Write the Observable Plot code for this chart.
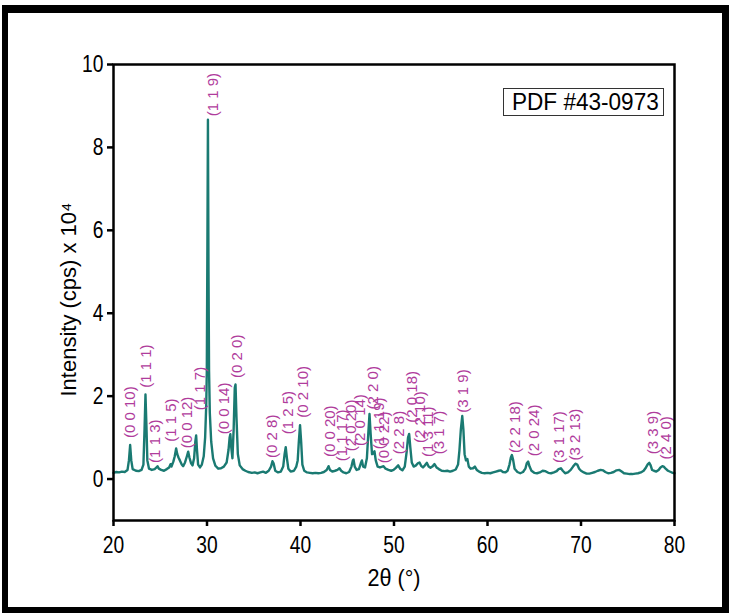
<!DOCTYPE html>
<html>
<head>
<meta charset="utf-8">
<script src="https://cdn.jsdelivr.net/npm/d3@7"></script>
<script src="https://cdn.jsdelivr.net/npm/@observablehq/plot@0.6"></script>
<style>
  html, body { margin: 0; padding: 0; background: #fff; }
  #wrap { position: relative; width: 730px; height: 613px; overflow: hidden; background: #fff; }
  #outer { position: absolute; left: 2px; top: 5px; right: 1px; bottom: 0; box-sizing: border-box;
           border-style: solid; border-color: #000; border-width: 8px 7px 6px 6px; pointer-events: none; }
  #pdf { position: absolute; left: 503px; top: 88px; width: 159px; height: 26px; border: 1px solid #333;
         font-family: "Liberation Sans", Arial, sans-serif; font-size: 24px; line-height: 26px; white-space: nowrap; }
  #pdf span { display: inline-block; margin-left: 8px; transform: scaleX(0.94); transform-origin: left center; }
</style>
</head>
<body>
<div id="wrap"></div>
<script>
// X-ray diffraction pattern: [2θ (°), intensity (cps ×10^4)]
const pattern = [
  [20.0,0.15],[20.3,0.17],[20.6,0.16],[20.9,0.18],[21.2,0.17],[21.5,0.22],[21.65,0.45],[21.78,0.82],[21.9,0.45],[22.05,0.24],
  [22.4,0.2],[22.7,0.19],[23.0,0.22],[23.2,0.35],[23.32,1.2],[23.42,2.04],[23.52,1.3],[23.62,0.45],[23.8,0.25],[24.1,0.22],
  [24.4,0.24],[24.6,0.28],[24.71,0.31],[24.85,0.25],[25.1,0.22],[25.4,0.2],[25.7,0.24],[25.95,0.28],[26.1,0.36],[26.2,0.3],
  [26.4,0.42],[26.55,0.55],[26.7,0.74],[26.82,0.6],[26.95,0.52],[27.1,0.45],[27.3,0.35],[27.45,0.31],[27.65,0.4],[27.85,0.55],
  [27.99,0.66],[28.12,0.52],[28.3,0.38],[28.45,0.33],[28.62,0.5],[28.75,0.9],[28.84,1.05],[28.93,0.7],[29.05,0.35],[29.25,0.28],
  [29.45,0.35],[29.65,0.55],[29.8,1.0],[29.92,1.8],[29.98,2.6],[30.04,5.5],[30.1,8.67],[30.16,5.0],[30.22,2.6],[30.3,1.6],
  [30.45,0.9],[30.65,0.5],[30.9,0.32],[31.2,0.25],[31.5,0.26],[31.8,0.3],[32.1,0.4],[32.3,0.7],[32.42,1.0],[32.5,1.08],
  [32.6,0.75],[32.72,0.5],[32.85,1.2],[32.97,2.2],[33.05,2.28],[33.15,1.5],[33.3,0.6],[33.5,0.33],[33.8,0.24],[34.1,0.2],
  [34.4,0.17],[34.8,0.15],[35.1,0.16],[35.4,0.14],[35.7,0.16],[36.0,0.18],[36.3,0.15],[36.6,0.2],[36.85,0.3],[37.0,0.43],
  [37.12,0.38],[37.3,0.2],[37.6,0.16],[37.9,0.18],[38.15,0.3],[38.3,0.6],[38.42,0.77],[38.55,0.5],[38.7,0.25],[38.95,0.18],
  [39.3,0.2],[39.55,0.3],[39.7,0.45],[39.82,0.9],[39.95,1.3],[40.07,0.9],[40.2,0.35],[40.4,0.2],[40.7,0.16],[41.0,0.15],
  [41.3,0.14],[41.6,0.15],[41.9,0.14],[42.2,0.15],[42.5,0.17],[42.8,0.22],[43.0,0.31],[43.15,0.22],[43.4,0.18],[43.7,0.2],
  [43.95,0.22],[44.17,0.26],[44.35,0.2],[44.6,0.16],[44.9,0.14],[45.2,0.17],[45.45,0.3],[45.6,0.45],[45.67,0.47],[45.8,0.3],
  [46.0,0.22],[46.25,0.24],[46.45,0.38],[46.57,0.45],[46.7,0.3],[46.9,0.28],[47.1,0.5],[47.25,1.1],[47.38,1.57],[47.5,1.1],
  [47.65,0.6],[47.8,0.62],[47.91,0.67],[48.05,0.45],[48.25,0.3],[48.5,0.28],[48.75,0.3],[48.88,0.31],[49.1,0.25],[49.4,0.22],
  [49.7,0.2],[49.95,0.22],[50.2,0.27],[50.45,0.33],[50.65,0.25],[50.9,0.21],[51.15,0.3],[51.35,0.65],[51.5,1.0],[51.62,1.09],
  [51.75,0.75],[51.9,0.4],[52.1,0.3],[52.35,0.33],[52.55,0.38],[52.73,0.4],[52.9,0.32],[53.1,0.28],[53.3,0.33],[53.52,0.39],
  [53.7,0.3],[53.9,0.27],[54.1,0.3],[54.33,0.36],[54.55,0.28],[54.8,0.24],[55.1,0.2],[55.4,0.19],[55.7,0.2],[56.0,0.18],
  [56.3,0.2],[56.6,0.23],[56.85,0.35],[57.0,0.7],[57.15,1.2],[57.3,1.52],[57.42,1.2],[57.55,0.6],[57.7,0.45],[57.85,0.48],
  [58.0,0.3],[58.2,0.25],[58.45,0.26],[58.65,0.3],[58.85,0.22],[59.1,0.18],[59.4,0.15],[59.7,0.14],[60.0,0.15],[60.3,0.14],
  [60.6,0.16],[60.9,0.18],[61.2,0.2],[61.4,0.21],[61.65,0.17],[61.9,0.16],[62.15,0.2],[62.35,0.35],[62.5,0.52],[62.61,0.58],
  [62.75,0.45],[62.9,0.25],[63.2,0.17],[63.5,0.14],[63.8,0.17],[64.05,0.25],[64.2,0.38],[64.35,0.42],[64.5,0.3],[64.7,0.2],
  [65.0,0.15],[65.3,0.14],[65.6,0.16],[65.9,0.2],[66.2,0.19],[66.5,0.15],[66.8,0.14],[67.1,0.16],[67.4,0.19],[67.6,0.24],
  [67.85,0.26],[68.05,0.2],[68.3,0.14],[68.6,0.16],[68.9,0.22],[69.15,0.3],[69.4,0.37],[69.6,0.35],[69.8,0.25],[70.0,0.2],
  [70.3,0.16],[70.6,0.13],[70.9,0.13],[71.2,0.15],[71.5,0.17],[71.8,0.2],[72.1,0.22],[72.35,0.21],[72.6,0.17],[72.9,0.14],
  [73.2,0.15],[73.5,0.17],[73.8,0.21],[74.1,0.22],[74.35,0.18],[74.6,0.14],[74.9,0.13],[75.2,0.12],[75.5,0.12],[75.8,0.13],
  [76.1,0.14],[76.4,0.16],[76.7,0.2],[76.95,0.28],[77.15,0.36],[77.3,0.39],[77.45,0.33],[77.6,0.22],[77.8,0.2],[78.05,0.18],
  [78.3,0.22],[78.5,0.28],[78.7,0.31],[78.85,0.3],[79.05,0.25],[79.3,0.2],[79.6,0.17],[79.8,0.15],[80.0,0.14]
];

// Miller index labels: text, 2θ position, base intensity of the label
const hklText = ["(0 0 10)","(1 1 1)","(1 1 3)","(1 1 5)","(0 0 12)","(1 1 7)","(1 1 9)","(0 0 14)","(0 2 0)","(0 2 8)",
  "(1 2 5)","(0 2 10)","(0 0 20)","(1 1 17)","(2 0 20)","(2 0 14)","(2 2 0)","(1 1 19)","(0 0 22)","(2 2 8)",
  "(2 0 18)","(2 2 10)","(1 3 11)","(3 1 7)","(3 1 9)","(2 2 18)","(2 0 24)","(3 1 17)","(3 2 13)","(3 3 9)","(2 4 0)"];
const hklTheta = [21.79,23.5,24.46,26.17,27.91,29.27,30.63,31.87,33.2,36.97,
  38.65,40.32,43.18,44.43,45.42,46.39,47.81,48.42,49.0,50.59,
  51.95,52.8,53.69,54.87,57.43,62.96,64.99,67.67,69.38,77.69,79.11];
const hklBase = [0.99,2.2,0.39,0.9,0.74,1.66,8.75,1.08,2.44,0.51,
  1.08,1.48,0.53,0.43,0.67,0.8,1.68,0.72,0.38,0.6,
  1.36,0.87,0.53,0.6,1.6,0.63,0.55,0.39,0.45,0.6,0.47];

const xTicks = [20, 30, 40, 50, 60, 70, 80];
const yTicks = [0, 2, 4, 6, 8, 10];
const xTitle = "2θ (°)";
const yTitle = "Intensity (cps) x 10⁴";
const refText = "PDF #43-0973";

const labels = hklText.map((t, i) => ({hkl: t, t: hklTheta[i], base: hklBase[i]}));

const chart = Plot.plot({
  width: 730,
  height: 613,
  marginTop: 64,
  marginLeft: 113,
  marginRight: 56,
  marginBottom: 93,
  style: {fontFamily: "'Liberation Sans', Arial, sans-serif", fontSize: "24px", color: "#000", background: "transparent", overflow: "visible"},
  x: {domain: [20, 80]},
  y: {domain: [-1, 10]},
  marks: [
    Plot.line(pattern, {x: d => d[0], y: d => d[1], stroke: "#1a7a72", strokeWidth: 2.4, curve: "linear", strokeLinejoin: "round"}),
    Plot.text(labels, {x: "t", y: "base", text: "hkl", rotate: -90, textAnchor: "start", lineAnchor: "middle",
      fill: "#b03c9c", fontSize: 15, fontFamily: "'Liberation Sans', Arial, sans-serif"}),
    Plot.frame({stroke: "#000", strokeWidth: 2.5}),
    Plot.axisX({ticks: xTicks, tickSize: 6, tickPadding: 9, label: null, strokeWidth: 2.5, fontSize: 24, tickFormat: d => String(d)}),
    Plot.axisY({ticks: yTicks, tickSize: 6, tickPadding: 4, label: null, strokeWidth: 2.5, fontSize: 24, tickFormat: d => String(d)}),
    Plot.text([yTitle], {frameAnchor: "left", text: d => d, rotate: -90, dx: -45, dy: 7, fontSize: 22, textAnchor: "middle", lineAnchor: "middle"}),
    Plot.text([xTitle], {frameAnchor: "bottom", text: d => d, dy: 58, fontSize: 24, textAnchor: "middle", lineAnchor: "middle", className: "xtitle"})
  ]
});

const wrap = document.getElementById("wrap");
wrap.appendChild(chart);
chart.style.position = "absolute";
chart.style.left = "0px";
chart.style.top = "0px";

const outer = document.createElement("div");
outer.id = "outer";
wrap.appendChild(outer);

const pdf = document.createElement("div");
pdf.id = "pdf";
const sp = document.createElement("span");
sp.textContent = refText;
pdf.appendChild(sp);
wrap.appendChild(pdf);

// Horizontally condense axis text to match the narrow lettering of the original
function condense(sel, k) {
  chart.querySelectorAll(sel).forEach(t => {
    const w = t.getComputedTextLength();
    if (w > 0) {
      t.setAttribute("textLength", (w * k).toFixed(1));
      t.setAttribute("lengthAdjust", "spacingAndGlyphs");
    }
  });
}
condense('g[aria-label="x-axis tick label"] text', 0.8);
condense('g[aria-label="y-axis tick label"] text', 0.8);
condense('.xtitle text', 0.9);
</script>
</body>
</html>
